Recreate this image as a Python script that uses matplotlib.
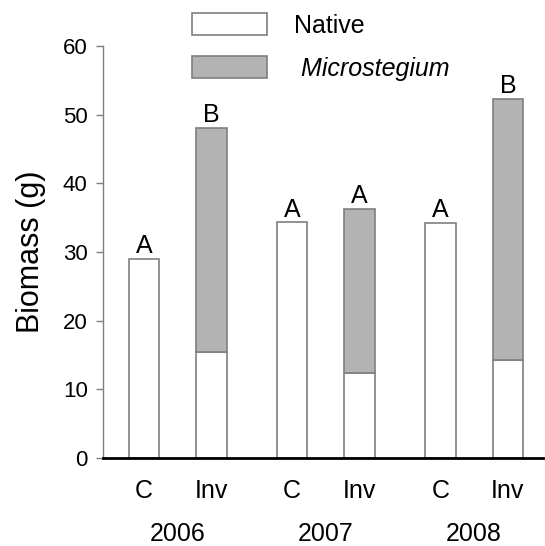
import matplotlib.pyplot as plt
from matplotlib.patches import Patch
import numpy as np

plt.rcParams['font.family'] = ['Liberation Sans', 'DejaVu Sans']

years = ['2006', '2007', '2008']
treatments = ['C', 'Inv', 'C', 'Inv', 'C', 'Inv']
native = [29.0, 15.5, 34.3, 12.4, 34.2, 14.3]
micro = [0.0, 32.6, 0.0, 23.9, 0.0, 38.0]
letters = ['A', 'B', 'A', 'A', 'A', 'B']

x = np.array([0, 1, 2.19, 3.19, 4.39, 5.39])
w = 0.45
edge = '#7f7f7f'
gray = '#b3b3b3'

fig = plt.figure(figsize=(5.45, 5.46), dpi=100)
ax = fig.add_axes([0.189, 0.161, 0.811, 0.755])

ax.bar(x, native, w, color='white', edgecolor=edge, linewidth=1.2, zorder=2)
mask = np.array(micro) > 0
ax.bar(x[mask], np.array(micro)[mask], w, bottom=np.array(native)[mask],
       color=gray, edgecolor=edge, linewidth=1.2, zorder=2)

totals = np.array(native) + np.array(micro)
for xi, t, l in zip(x, totals, letters):
    ax.annotate(l, (xi, t), xytext=(0, 0.5), textcoords='offset points',
                ha='center', va='bottom', fontsize=18)

ax.set_ylim(0, 60)
ax.set_xlim(-0.607, 5.94)
ax.set_yticks(np.arange(0, 61, 10))
ax.tick_params(axis='y', labelsize=16, color=edge, length=5, width=1, pad=6)
ax.set_xticks(x)
ax.set_xticklabels(treatments, fontsize=18)
ax.tick_params(axis='x', length=0, pad=15)
for i, yr in enumerate(years):
    ax.text((x[2 * i] + x[2 * i + 1]) / 2, -0.183, yr, fontsize=18,
            ha='center', va='center', transform=ax.get_xaxis_transform())

ax.set_ylabel('Biomass (g)', fontsize=22)
ax.yaxis.set_label_coords(-0.128, 0.5)
ax.spines['top'].set_visible(False)
ax.spines['right'].set_visible(False)
ax.spines['left'].set_color(edge)
ax.spines['left'].set_linewidth(1)
ax.spines['bottom'].set_linewidth(2)
ax.spines['bottom'].set_zorder(3)

handles = [Patch(facecolor='white', edgecolor=edge, linewidth=1.2),
           Patch(facecolor=gray, edgecolor=edge, linewidth=1.2)]
leg = fig.legend(handles, ['Native', ' Microstegium'], loc='upper left',
                 bbox_to_anchor=(0.352, 0.976), frameon=False, fontsize=18,
                 handlelength=3.0, handleheight=1.0, handletextpad=1.1,
                 labelspacing=0.72, borderpad=0, borderaxespad=0)
leg.get_texts()[1].set_fontstyle('italic')

plt.savefig('out.png', dpi=100)
